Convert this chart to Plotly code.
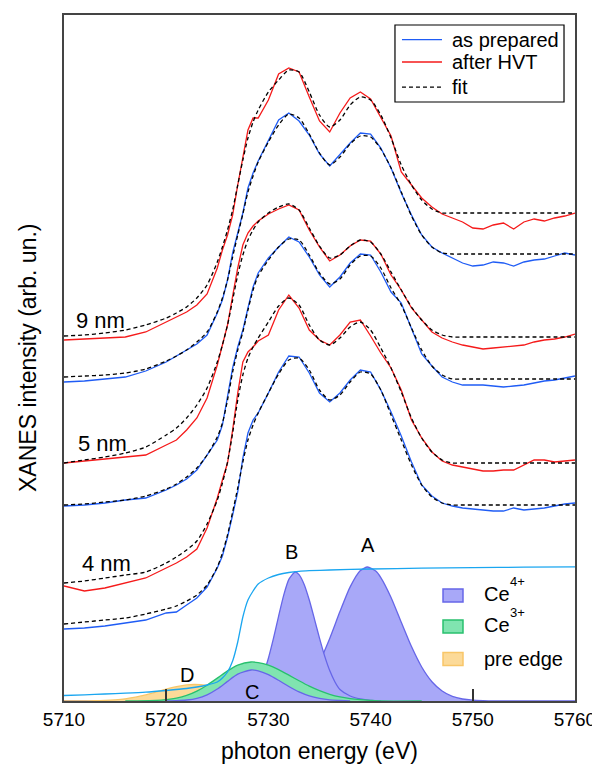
import plotly.graph_objects as go

# ---------------- data (heights in arbitrary units) ----------------
energy = [5710, 5712, 5714, 5716, 5718, 5720, 5721, 5722, 5723, 5724, 5725, 5725.5, 5726, 5726.5,
          5727, 5727.5, 5728, 5728.5, 5729, 5730, 5731, 5732, 5733, 5734, 5735, 5736, 5737, 5738,
          5739, 5740, 5741, 5742, 5743, 5744, 5745, 5746, 5747, 5748, 5749, 5750, 5751, 5752, 5753,
          5754, 5755, 5756, 5757, 5758, 5759, 5760]

nm9_hvt = [361, 362, 363, 364, 369, 379, 384, 389, 396, 407, 433, 451, 466, 486, 516, 544, 571, 583, 583,
           601, 627, 633, 629, 604, 580, 569, 588, 603, 609, 602, 584, 565, 529, 516, 503, 494, 487, 483,
           479, 473, 472, 476, 478, 472, 479, 482, 480, 483, 485, 488]
nm9_hvt_fit = [365, 366, 368, 371, 376, 383, 388, 394, 403, 416, 439, 454, 471, 491, 516, 541, 563, 579, 591,
               609, 621, 631, 629, 609, 586, 574, 581, 596, 604, 601, 586, 563, 536, 516, 501, 492, 488, 488,
               488, 488, 488, 488, 488, 488, 488, 488, 488, 488, 488, 488]
nm9_prep = [319, 320, 322, 324, 330, 339, 345, 351, 357, 366, 388, 401, 421, 448, 469, 488, 513, 528, 540,
            561, 581, 588, 580, 566, 547, 535, 547, 558, 568, 567, 553, 533, 508, 486, 466, 454, 448, 443,
            438, 435, 436, 439, 438, 435, 439, 441, 442, 445, 448, 446]
nm9_prep_fit = [324, 325, 326, 328, 332, 340, 345, 351, 359, 369, 389, 403, 421, 444, 466, 487, 509, 525, 539,
                559, 576, 587, 583, 567, 548, 536, 544, 557, 565, 564, 552, 533, 509, 485, 466, 454, 448, 447,
                447, 447, 447, 447, 447, 447, 447, 447, 447, 447, 447, 447]

nm5_hvt = [238, 240, 242, 244, 246, 256, 261, 271, 283, 303, 336, 356, 376, 405, 433, 456, 468, 475, 480,
           487, 492, 496, 491, 471, 454, 440, 446, 455, 461, 460, 447, 426, 411, 393, 381, 369, 363, 359,
           356, 354, 352, 353, 354, 355, 356, 359, 361, 362, 364, 367]
nm5_hvt_fit = [238, 241, 244, 248, 254, 266, 273, 283, 296, 313, 339, 356, 376, 401, 426, 446, 461, 471, 479,
               488, 494, 497, 491, 473, 455, 443, 446, 455, 461, 459, 447, 429, 411, 394, 381, 371, 366, 364,
               364, 364, 364, 364, 364, 364, 364, 364, 364, 364, 364, 364]
nm5_prep = [195, 196, 198, 201, 203, 211, 216, 222, 231, 246, 261, 276, 303, 333, 354, 371, 393, 414, 428,
            443, 454, 464, 459, 444, 426, 414, 424, 438, 447, 446, 429, 409, 398, 373, 347, 335, 324, 319,
            316, 316, 316, 315, 314, 315, 316, 318, 320, 321, 323, 325]
nm5_prep_fit = [196, 197, 199, 201, 205, 212, 217, 224, 233, 246, 264, 278, 301, 329, 351, 369, 391, 411, 425,
                441, 454, 462, 461, 446, 428, 417, 422, 436, 445, 445, 433, 413, 396, 373, 351, 335, 326, 322,
                322, 322, 322, 322, 322, 322, 322, 322, 322, 322, 322, 322]

nm4_hvt = [115, 110, 113, 118, 123, 133, 138, 144, 152, 173, 203, 221, 238, 271, 308, 339, 349, 354, 360,
           366, 391, 406, 393, 371, 361, 356, 366, 379, 381, 365, 348, 333, 311, 281, 263, 249, 240, 236,
           234, 232, 230, 230, 231, 231, 236, 241, 241, 239, 240, 241]
nm4_hvt_fit = [118, 120, 123, 126, 129, 138, 144, 151, 160, 177, 201, 218, 239, 268, 301, 326, 343, 354, 363,
               379, 395, 403, 396, 376, 361, 356, 363, 374, 379, 371, 353, 333, 309, 283, 263, 249, 241, 238,
               238, 238, 238, 238, 238, 238, 238, 238, 238, 238, 238, 238]
nm4_prep = [72, 73, 75, 78, 81, 88, 89, 96, 103, 114, 133, 145, 164, 186, 209, 243, 268, 281, 288,
            308, 329, 345, 344, 328, 308, 299, 308, 321, 331, 329, 311, 289, 265, 239, 216, 205, 198, 195,
            193, 192, 191, 190, 190, 193, 191, 192, 193, 195, 197, 198]
nm4_prep_fit = [77, 79, 81, 83, 87, 92, 95, 100, 106, 116, 134, 148, 166, 189, 213, 239, 261, 276, 288,
                308, 327, 341, 343, 331, 311, 301, 306, 319, 329, 327, 311, 286, 261, 236, 216, 204, 198, 196,
                196, 196, 196, 196, 196, 196, 196, 196, 196, 196, 196, 196]

# fit components
peakA_e = [5729, 5730, 5731, 5732, 5733, 5734, 5735, 5736, 5737, 5738, 5739, 5739.7, 5740.5, 5741, 5742,
           5743, 5744, 5745, 5746, 5747, 5748, 5749, 5750, 5751, 5752, 5760]
peakA_h = [0, 0.7, 2.0, 5.0, 11.1, 22.0, 39.3, 62.6, 89.4, 114.1, 130.4, 134, 129.9, 123.4, 103.5,
           78.8, 54.4, 34.0, 19.3, 10.0, 4.6, 2.0, 0.8, 0.3, 0, 0]
peakB_e = [5710, 5726, 5727, 5728, 5728.5, 5729, 5729.5, 5730, 5730.5, 5731, 5731.5, 5732, 5732.6, 5733,
           5733.5, 5734, 5734.5, 5735, 5735.5, 5736, 5736.5, 5737, 5738, 5739, 5740, 5741]
peakB_h = [0, 0, 0.8, 4.1, 8.3, 15.5, 26.9, 42.8, 62.8, 84.9, 105.9, 121.6, 129, 126.4,
           116.6, 101, 82.2, 62.8, 45.1, 30.4, 19.3, 11.5, 5, 2, 0.5, 0]
peakC_e = [5720, 5721, 5722, 5723, 5724, 5725, 5726, 5727, 5728.3, 5729, 5730, 5731, 5732, 5733, 5734,
           5735, 5736, 5737, 5738]
peakC_h = [0, 0.3, 1.0, 2.7, 6.2, 12.0, 19.6, 26.8, 31, 30.2, 26.4, 20.7, 14.5, 9.1, 5.1, 2.6, 1.1, 0.5, 0]
ce3_e = [5716, 5719, 5720, 5721, 5722, 5723, 5724, 5725, 5726, 5727, 5728.3, 5729, 5730, 5731, 5732,
         5733, 5734, 5735, 5736, 5737, 5738, 5739, 5740, 5741, 5745]
ce3_h = [0, 0.6, 1.4, 2.9, 5.6, 9.9, 15.8, 22.9, 30.1, 35.9, 39, 38.4, 35.8, 31.4, 25.9,
         20.2, 14.8, 10.3, 6.7, 4.1, 2.4, 1.3, 0.6, 0, 0]
pre_e = [5710, 5712, 5713, 5714, 5715, 5716, 5717, 5718, 5719, 5720, 5721, 5722, 5722.8, 5724, 5725,
         5726, 5727, 5728, 5729, 5730, 5731, 5732, 5733]
pre_h = [0, 0.1, 0.26, 0.58, 1.2, 2.2, 3.8, 6.1, 8.8, 11.8, 14.3, 16.1, 16.5, 15.5, 13.4,
         10.6, 7.7, 5.1, 3.1, 1.7, 0.9, 0.4, 0]
step_e = [5710, 5712, 5714, 5716, 5718, 5720, 5722, 5723, 5724, 5725, 5725.5, 5726, 5726.5, 5727, 5727.5,
          5728, 5728.5, 5729, 5730, 5731, 5732, 5733, 5734, 5736, 5740, 5745, 5750, 5755, 5760]
step_h = [5.5, 6.2, 7, 7.8, 8.8, 10.5, 12.5, 14, 16, 19, 23, 29, 40, 59, 84,
          101, 110, 117, 123, 126.5, 128.5, 129.7, 130.3, 131, 132, 132.8, 133.4, 133.8, 134.2]

size_labels = ["9 nm", "5 nm", "4 nm"]
size_label_e = [5713.6, 5713.8, 5714.2]
size_label_h = [381, 258, 138]
peak_labels = ["A", "B", "C", "D"]
peak_label_e = [5739.7, 5732.3, 5728.4, 5722.0]
peak_label_h = [156, 149, 9, 26]
xticks = [5710, 5720, 5730, 5740, 5750, 5760]
xticks_visible = [5710, 5720, 5750, 5760]   # the 5730/5740 ticks are hidden by the filled peaks
line_legend_names = ["as prepared", "after HVT", "fit"]
comp_legend_names = ["Ce", "Ce", "pre edge"]
comp_legend_sups = ["4+", "3+", ""]

# ---------------- styles ----------------
BLUE = "#1f5cf5"
RED = "#f51a1a"
CYAN = "#1aa6f0"
CE4_FILL = "rgb(168,168,248)"
CE4_LINE = "rgb(102,102,232)"
CE3_FILL = "rgb(128,228,176)"
CE3_LINE = "rgb(40,192,110)"
PRE_FILL = "rgb(252,218,152)"
PRE_LINE = "rgb(248,198,104)"
FONT = "Liberation Sans, Arial, sans-serif"
DASH = "4px,3px"

fig = go.Figure()

def comp(x, y, fill, line, name):
    fig.add_trace(go.Scatter(x=x, y=y, mode="lines", fill="tozeroy", fillcolor=fill, name=name,
                             line=dict(color=line, width=1.3, shape="spline", smoothing=0.6),
                             showlegend=False, hoverinfo="skip"))

comp(peakA_e, peakA_h, CE4_FILL, CE4_LINE, "A")
comp(peakB_e, peakB_h, CE4_FILL, CE4_LINE, "B")
comp(pre_e, pre_h, PRE_FILL, PRE_LINE, "D")
comp(ce3_e, ce3_h, CE3_FILL, CE3_LINE, "Ce3+")
comp(peakC_e, peakC_h, CE4_FILL, CE4_LINE, "C")

spectra = [(nm4_prep, nm4_prep_fit, BLUE), (nm4_hvt, nm4_hvt_fit, RED),
           (nm5_prep, nm5_prep_fit, BLUE), (nm5_hvt, nm5_hvt_fit, RED),
           (nm9_prep, nm9_prep_fit, BLUE), (nm9_hvt, nm9_hvt_fit, RED)]
for data, fit, col in spectra:
    fig.add_trace(go.Scatter(x=energy, y=data, mode="lines", line=dict(color=col, width=1.3),
                             showlegend=False, hoverinfo="skip"))
for data, fit, col in spectra:
    fig.add_trace(go.Scatter(x=energy, y=fit, mode="lines",
                             line=dict(color="black", width=1.3, dash=DASH, shape="spline", smoothing=0.7),
                             showlegend=False, hoverinfo="skip"))

# edge step drawn on the overlay axis (which also carries the visible tick marks, above the fills)
fig.add_trace(go.Scatter(x=step_e, y=step_h, mode="lines", name="edge step", xaxis="x2",
                         line=dict(color=CYAN, width=1.3, shape="spline", smoothing=0.6),
                         showlegend=False, hoverinfo="skip"))

for t, e, h in zip(size_labels, size_label_e, size_label_h):
    fig.add_annotation(x=e, y=h, text=t, showarrow=False, font=dict(size=22, color="black", family=FONT),
                       xanchor="center", yanchor="middle")
for t, e, h in zip(peak_labels, peak_label_e, peak_label_h):
    fig.add_annotation(x=e, y=h, text=t, showarrow=False, font=dict(size=20, color="black", family=FONT),
                       xanchor="center", yanchor="middle")

# ---- legend 1 (drawn in paper coordinates) ----
fig.add_shape(type="rect", xref="paper", yref="paper", x0=0.6477, x1=0.9785, y0=0.8732, y1=0.9854,
              line=dict(color="black", width=1.2), fillcolor="white", layer="above")
leg1_y = [0.9640, 0.9315, 0.8950]
for name, col, dash, yy in zip(line_legend_names, [BLUE, RED, "black"], ["solid", "solid", DASH], leg1_y):
    fig.add_shape(type="line", xref="paper", yref="paper", x0=0.6614, x1=0.7397, y0=yy, y1=yy,
                  line=dict(color=col, width=1.3, dash=dash), layer="above")
    fig.add_annotation(x=0.7554, y=yy, xref="paper", yref="paper", text=name, showarrow=False,
                       xanchor="left", yanchor="middle", font=dict(size=20, color="black", family=FONT))

# ---- legend 2 ----
leg2_box_y = [0.1538, 0.1086, 0.0612]
leg2_text_y = [0.1564, 0.1102, 0.0612]
leg2_sup_y = [0.1749, 0.1290, 0.0]
for name, sup, fillc, linec, by, ty, sy in zip(comp_legend_names, comp_legend_sups,
                                               [CE4_FILL, CE3_FILL, PRE_FILL], [CE4_LINE, CE3_LINE, PRE_LINE],
                                               leg2_box_y, leg2_text_y, leg2_sup_y):
    fig.add_shape(type="rect", xref="paper", yref="paper", x0=0.7417, x1=0.7808, y0=by - 0.0095,
                  y1=by + 0.0095, line=dict(color=linec, width=1.5), fillcolor=fillc, layer="above")
    fig.add_annotation(x=0.818, y=ty, xref="paper", yref="paper", text=name, showarrow=False,
                       xanchor="left", yanchor="middle", font=dict(size=20, color="black", family=FONT))
    if sup:
        fig.add_annotation(x=0.8689, y=sy, xref="paper", yref="paper", text=sup, showarrow=False,
                           xanchor="left", yanchor="middle", font=dict(size=13, color="black", family=FONT))

# axis titles as paper annotations
fig.add_annotation(x=0.5, y=-0.073, xref="paper", yref="paper", text="photon energy (eV)",
                   showarrow=False, font=dict(size=23, color="black", family=FONT),
                   xanchor="center", yanchor="middle")
fig.add_annotation(x=-0.0705, y=0.50, xref="paper", yref="paper", text="XANES intensity (arb. un.)",
                   showarrow=False, textangle=-90, font=dict(size=23, color="black", family=FONT),
                   xanchor="center", yanchor="middle")

# the page body adds an 8 px margin, so the figure is 8 px smaller on each side
fig.update_layout(
    width=592, height=758,
    margin=dict(l=56, r=25, t=7, b=65, autoexpand=False),
    paper_bgcolor="white", plot_bgcolor="white",
    showlegend=False,
    font=dict(family=FONT, color="black", size=19),
    xaxis=dict(range=[5710, 5760], tickvals=xticks, ticktext=[str(v) for v in xticks],
               ticks="", automargin=False,
               showline=True, linecolor="#444", linewidth=2, mirror=True, showgrid=False, zeroline=False,
               tickfont=dict(size=19, family=FONT)),
    xaxis2=dict(range=[5710, 5760], overlaying="x", anchor="y", side="bottom", tickvals=xticks_visible,
                showticklabels=False, ticks="inside", ticklen=12, tickwidth=1.5, tickcolor="#333",
                showline=False, showgrid=False, zeroline=False, automargin=False),
    yaxis=dict(range=[0, 686], showticklabels=False, ticks="", showline=True, linecolor="#444",
               linewidth=2, mirror=True, showgrid=False, zeroline=False, automargin=False),
)

fig.write_html("out.html")
